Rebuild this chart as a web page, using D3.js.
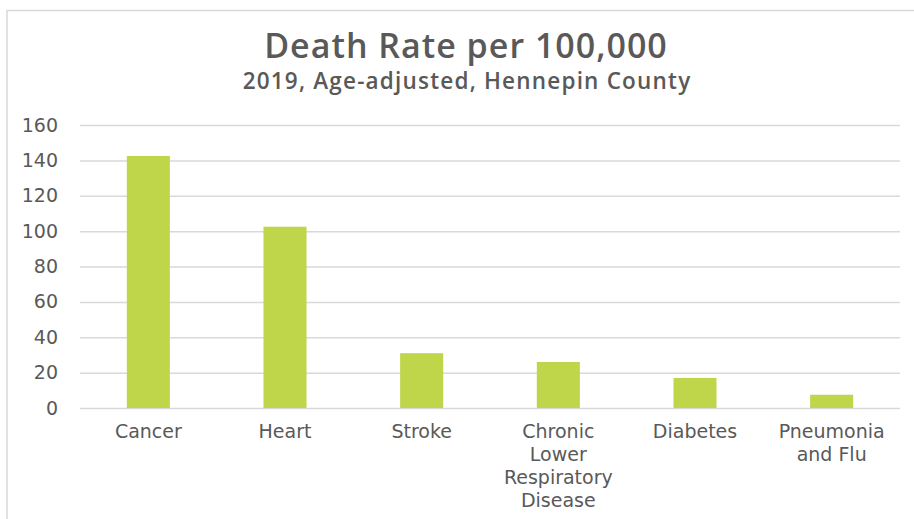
<!DOCTYPE html>
<html>
<head>
<meta charset="utf-8">
<script src="https://cdn.jsdelivr.net/npm/d3@7"></script>
<style>
  html, body { margin: 0; padding: 0; background: #fff; }
  svg { display: block; }
</style>
</head>
<body>
<svg id="chart" width="914" height="519"></svg>
<script>
const categories = [
  ["Cancer"],
  ["Heart"],
  ["Stroke"],
  ["Chronic", "Lower", "Respiratory", "Disease"],
  ["Diabetes"],
  ["Pneumonia", "and Flu"]
];
const values = [142.5, 102.5, 31, 26, 17, 7.5];
const yTicks = [0, 20, 40, 60, 80, 100, 120, 140, 160];
const titleText = "Death Rate per 100,000";
const subtitleText = "2019, Age-adjusted, Hennepin County";

const W = 914, H = 519;
const margin = { left: 80, right: 14, top: 125, bottom: 111 };
const svg = d3.select("#chart");
const textColor = "#595959";
const font = "'DejaVu Sans', sans-serif";
const titleFont = "'Open Sans', sans-serif";

// outer border (top + left)
svg.append("path")
  .attr("d", `M7,${H} L7,10.5 L${W},10.5`)
  .attr("fill", "none")
  .attr("stroke", "#d9d9d9")
  .attr("stroke-width", 1.5);

const x = d3.scaleBand()
  .domain(d3.range(categories.length))
  .range([margin.left, W - margin.right])
  .paddingInner(0.685)
  .paddingOuter(0.3425);

const y = d3.scaleLinear()
  .domain([0, 160])
  .range([H - margin.bottom, margin.top]);

// gridlines
const yAxis = d3.axisLeft(y)
  .tickValues(yTicks)
  .tickSize(-(W - margin.right - margin.left))
  .tickPadding(22);

const gy = svg.append("g")
  .attr("transform", `translate(${margin.left},0)`)
  .call(yAxis);
gy.select(".domain").remove();
gy.selectAll(".tick line")
  .attr("stroke", "#d9d9d9")
  .attr("stroke-width", 1.5);
gy.selectAll(".tick text")
  .attr("fill", textColor)
  .style("font-family", font)
  .style("font-size", "19px");

// bars
svg.append("g").selectAll("rect")
  .data(values)
  .join("rect")
  .attr("x", (d, i) => x(i))
  .attr("width", x.bandwidth())
  .attr("y", d => y(d))
  .attr("height", d => y(0) - y(d))
  .attr("fill", "#bfd64b");

// category labels
const gx = svg.append("g");
categories.forEach((lines, i) => {
  const t = gx.append("text")
    .attr("x", x(i) + x.bandwidth() / 2)
    .attr("y", 438)
    .attr("text-anchor", "middle")
    .attr("fill", textColor)
    .style("font-family", font)
    .style("font-size", "19px");
  lines.forEach((ln, j) => {
    t.append("tspan")
      .attr("x", x(i) + x.bandwidth() / 2)
      .attr("dy", j === 0 ? 0 : 23)
      .text(ln);
  });
});

// titles
svg.append("text")
  .attr("x", 466)
  .attr("y", 58)
  .attr("text-anchor", "middle")
  .attr("fill", textColor)
  .style("font-family", titleFont)
  .style("font-weight", "600")
  .style("font-size", "34px")
  .style("letter-spacing", "1px")
  .text(titleText);

svg.append("text")
  .attr("x", 467)
  .attr("y", 89)
  .attr("text-anchor", "middle")
  .attr("fill", textColor)
  .style("font-family", titleFont)
  .style("font-weight", "600")
  .style("font-size", "22.5px")
  .style("letter-spacing", "1.2px")
  .text(subtitleText);
</script>
</body>
</html>
